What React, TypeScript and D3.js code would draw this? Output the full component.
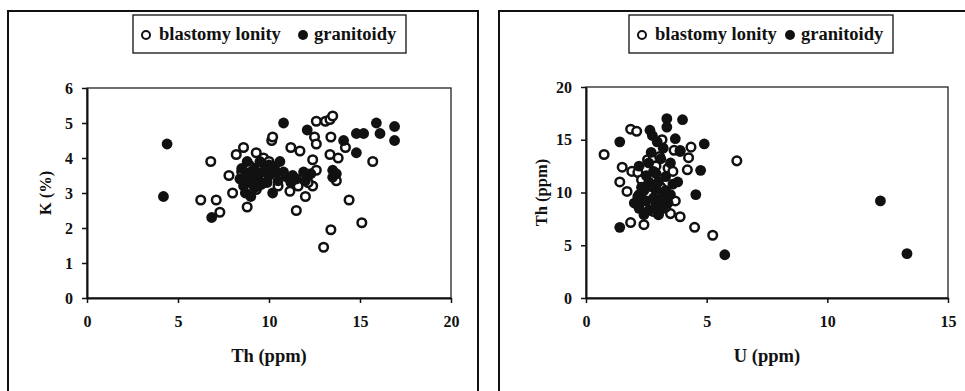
import React, { useEffect, useRef } from 'react';
import * as d3 from 'd3';

type Pt = [number, number];

const legendLabels = ['blastomy lonity', 'granitoidy'];

// left chart: Th (ppm) vs K (%)
const thTicks = [0, 5, 10, 15, 20];
const kTicks = [0, 1, 2, 3, 4, 5, 6];
const thKOpen: Pt[] = [
  [6.8, 3.9], [6.25, 2.8], [7.1, 2.8], [7.3, 2.45], [7.8, 3.5], [8.0, 3.0], [8.2, 4.1], [8.6, 4.3],
  [8.8, 2.6], [9.3, 4.15], [9.7, 4.0], [9.3, 3.1], [9.0, 3.3], [8.5, 3.6], [9.8, 3.5], [10.15, 4.5],
  [10.2, 4.6], [11.2, 4.3], [11.7, 4.2], [12.5, 4.6], [12.6, 4.4], [12.6, 5.05], [13.1, 5.05], [13.35, 5.1],
  [13.5, 5.2], [13.4, 4.6], [12.4, 3.95], [13.35, 4.1], [13.8, 4.0], [14.2, 4.3], [15.7, 3.9], [12.6, 3.65],
  [13.7, 3.35], [12.4, 3.2], [12.15, 3.3], [11.6, 3.2], [11.15, 3.05], [12.0, 2.9], [11.5, 2.5], [14.4, 2.8],
  [13.4, 1.95], [15.1, 2.15], [13.0, 1.45], [10.5, 3.2], [9.6, 3.7], [10.0, 3.9], [8.9, 3.8], [9.4, 3.2],
];
const thKFilled: Pt[] = [
  [4.4, 4.4], [4.2, 2.9], [6.85, 2.3], [8.4, 3.4], [8.6, 3.2], [8.9, 3.5], [9.0, 2.9], [9.2, 3.7],
  [9.5, 3.9], [9.7, 3.6], [9.4, 3.4], [10.0, 3.5], [10.2, 3.0], [10.4, 3.6], [10.6, 3.9], [10.8, 5.0],
  [11.0, 3.45], [11.2, 3.3], [11.9, 3.6], [12.1, 4.8], [12.3, 3.55], [13.5, 3.65], [13.7, 3.55], [13.5, 3.45],
  [14.1, 4.5], [14.8, 4.7], [15.2, 4.7], [14.8, 4.15], [15.9, 5.0], [16.1, 4.7], [16.9, 4.9], [16.9, 4.5],
  [8.7, 3.0], [9.9, 3.3], [10.3, 3.75], [9.0, 3.6], [8.8, 3.9], [8.5, 3.7], [9.1, 3.3], [9.3, 3.55],
  [9.6, 3.25], [9.8, 3.75], [10.1, 3.65], [10.5, 3.35], [10.8, 3.6], [11.3, 3.5], [8.7, 3.45], [9.2, 3.15],
  [10.0, 3.8], [11.5, 3.4], [12.0, 3.35],
];

// right chart: U (ppm) vs Th (ppm)
const uTicks = [0, 5, 10, 15];
const thTicksY = [0, 5, 10, 15, 20];
const uThOpen: Pt[] = [
  [0.75, 13.6], [1.85, 16.0], [2.1, 15.8], [3.15, 15.0], [4.35, 14.3], [6.25, 13.0], [3.65, 14.0], [3.9, 13.9],
  [4.25, 13.3], [4.2, 12.15], [1.5, 12.4], [1.9, 12.0], [2.15, 11.9], [1.4, 11.0], [1.7, 10.1], [2.15, 9.6],
  [2.55, 13.1], [2.8, 13.3], [3.05, 13.4], [3.9, 7.7], [4.5, 6.7], [5.25, 5.95], [1.85, 7.15], [2.4, 6.95],
  [3.0, 7.9], [3.5, 8.0], [3.3, 8.6], [2.6, 9.8], [3.4, 12.3], [3.6, 12.0], [2.9, 12.5], [2.5, 8.5],
  [3.1, 10.5], [2.3, 11.2], [3.7, 9.2], [2.8, 8.2],
];
const uThFilled: Pt[] = [
  [1.4, 14.8], [2.65, 15.9], [2.75, 15.4], [3.35, 17.0], [3.35, 16.2], [4.0, 16.9], [2.95, 14.8], [3.7, 15.1],
  [4.9, 14.6], [3.9, 14.0], [4.75, 12.1], [4.55, 9.8], [5.75, 4.1], [1.4, 6.7], [12.2, 9.2], [13.3, 4.2],
  [2.3, 10.5], [2.6, 11.0], [2.9, 10.3], [3.2, 9.7], [2.5, 9.2], [2.9, 8.8], [3.4, 9.0], [2.8, 12.0],
  [3.3, 11.5], [2.2, 8.5], [3.6, 10.8], [2.6, 12.8], [3.1, 13.2], [2.4, 7.9], [3.0, 8.0], [3.8, 11.0],
  [2.0, 9.0], [2.2, 9.8], [2.4, 10.2], [2.7, 10.6], [3.0, 11.0], [3.3, 10.2], [2.5, 11.6], [2.8, 9.5],
  [3.1, 9.2], [2.3, 9.3], [3.5, 9.8], [2.6, 8.3], [3.2, 8.5], [2.9, 11.8], [3.5, 12.8], [2.7, 13.8],
  [3.2, 14.2], [2.2, 12.5],
];

const FONT = "'Liberation Serif', 'Times New Roman', 'DejaVu Serif', serif";

interface PanelCfg {
  frameX: number;
  frameW: number;
  plot: { x0: number; x1: number; y0: number; y1: number };
  xDomain: [number, number];
  yDomain: [number, number];
  xTicks: number[];
  yTicks: number[];
  xTitle: string;
  yTitle: string;
  yTitleX: number;
  legend: { x: number; w: number };
  open: Pt[];
  filled: Pt[];
}

const App: React.FC = () => {
  const svgRef = useRef<SVGSVGElement>(null);
  const width = 965;
  const height = 391;

  useEffect(() => {
    if (!svgRef.current) return;
    const svg = d3.select(svgRef.current);
    svg.selectAll('*').remove();

    const panels: PanelCfg[] = [
      {
        frameX: 8, frameW: 470,
        plot: { x0: 87, x1: 451, y0: 298, y1: 88 },
        xDomain: [0, 20], yDomain: [0, 6],
        xTicks: thTicks, yTicks: kTicks,
        xTitle: 'Th (ppm)', yTitle: 'K (%)', yTitleX: 45,
        legend: { x: 133, w: 273 },
        open: thKOpen, filled: thKFilled,
      },
      {
        frameX: 499, frameW: 520,
        plot: { x0: 586, x1: 948, y0: 298, y1: 87 },
        xDomain: [0, 15], yDomain: [0, 20],
        xTicks: uTicks, yTicks: thTicksY,
        xTitle: 'U (ppm)', yTitle: 'Th (ppm)', yTitleX: 541,
        legend: { x: 629, w: 264 },
        open: uThOpen, filled: uThFilled,
      },
    ];

    const txt = (sel: d3.Selection<any, any, any, any>, size: number) =>
      sel.attr('font-family', FONT).attr('font-weight', 'bold').attr('font-size', size).attr('fill', '#111');

    panels.forEach(p => {
      // outer frame
      svg.append('rect')
        .attr('x', p.frameX).attr('y', 11)
        .attr('width', p.frameW).attr('height', 420)
        .attr('fill', 'none').attr('stroke', '#111').attr('stroke-width', 2);

      // legend
      const lg = svg.append('g').attr('transform', `translate(${p.legend.x},15)`);
      lg.append('rect').attr('width', p.legend.w).attr('height', 38)
        .attr('fill', '#fff').attr('stroke', '#111').attr('stroke-width', 1.3);
      lg.append('circle').attr('cx', 13).attr('cy', 20).attr('r', 4)
        .attr('fill', '#fff').attr('stroke', '#111').attr('stroke-width', 2);
      txt(lg.append('text').attr('x', 26).attr('y', 25), 18.5).text(legendLabels[0]);
      const fx = p.legend.w - 103;
      lg.append('circle').attr('cx', fx).attr('cy', 20).attr('r', 5).attr('fill', '#111');
      txt(lg.append('text').attr('x', fx + 11).attr('y', 25), 18.5).text(legendLabels[1]);

      const x = d3.scaleLinear().domain(p.xDomain).range([p.plot.x0, p.plot.x1]);
      const y = d3.scaleLinear().domain(p.yDomain).range([p.plot.y0, p.plot.y1]);

      // plot box
      svg.append('rect')
        .attr('x', p.plot.x0).attr('y', p.plot.y1)
        .attr('width', p.plot.x1 - p.plot.x0).attr('height', p.plot.y0 - p.plot.y1)
        .attr('fill', 'none').attr('stroke', '#222').attr('stroke-width', 1.3);

      const xa = svg.append('g')
        .attr('transform', `translate(0,${p.plot.y0})`)
        .call(d3.axisBottom(x).tickValues(p.xTicks).tickFormat(d3.format('d')).tickSize(5).tickSizeOuter(0).tickPadding(13));
      const ya = svg.append('g')
        .attr('transform', `translate(${p.plot.x0},0)`)
        .call(d3.axisLeft(y).tickValues(p.yTicks).tickFormat(d3.format('d')).tickSize(5).tickSizeOuter(0).tickPadding(9));
      [xa, ya].forEach(a => {
        a.attr('font-family', FONT);
        a.select('.domain').attr('stroke', '#111').attr('stroke-width', 2);
        a.selectAll('line').attr('stroke', '#111').attr('stroke-width', 1.5);
        txt(a.selectAll('text'), 16);
      });

      // axis titles
      txt(svg.append('text')
        .attr('x', (p.plot.x0 + p.plot.x1) / 2).attr('y', 362)
        .attr('text-anchor', 'middle'), 18.5)
        .text(p.xTitle);
      txt(svg.append('text')
        .attr('transform', `translate(${p.yTitleX},${(p.plot.y0 + p.plot.y1) / 2}) rotate(-90)`)
        .attr('text-anchor', 'middle').attr('dy', '0.35em'), 16.5)
        .text(p.yTitle);

      // points
      svg.append('g').selectAll('circle.open')
        .data(p.open).enter().append('circle')
        .attr('class', 'open')
        .attr('cx', d => x(d[0])).attr('cy', d => y(d[1])).attr('r', 4.3)
        .attr('fill', '#fff').attr('stroke', '#111').attr('stroke-width', 2.5);
      svg.append('g').selectAll('circle.filled')
        .data(p.filled).enter().append('circle')
        .attr('class', 'filled')
        .attr('cx', d => x(d[0])).attr('cy', d => y(d[1])).attr('r', 5.4)
        .attr('fill', '#111');
    });
  }, []);

  return (
    <svg
      ref={svgRef}
      width={width}
      height={height}
      style={{ position: 'absolute', left: 0, top: 0, background: '#fff' }}
    />
  );
};

export default App;
